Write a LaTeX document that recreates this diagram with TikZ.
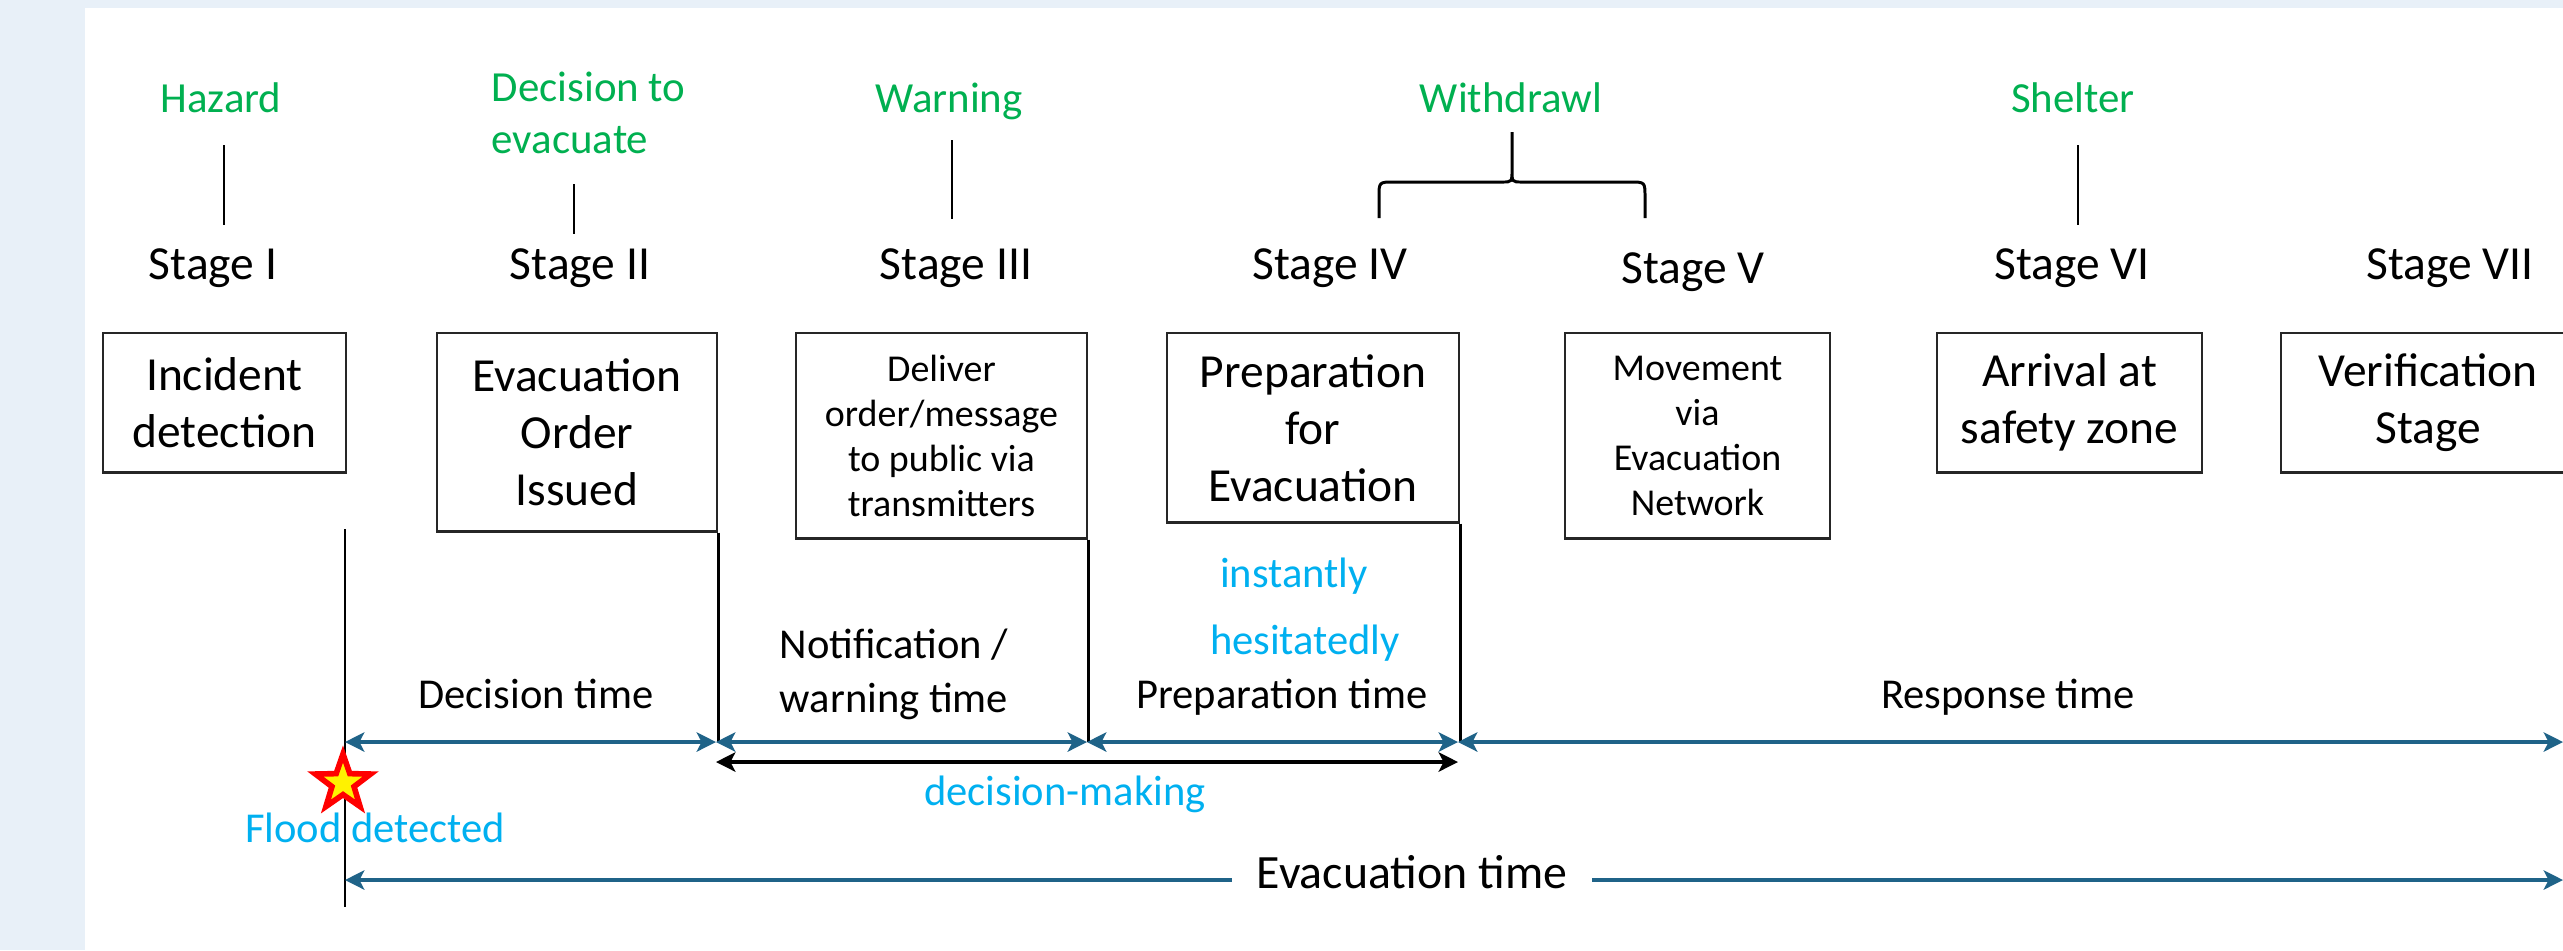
\documentclass[tikz,border=0pt]{standalone}
\usepackage{fontspec}
\setmainfont{Carlito}
\usetikzlibrary{arrows.meta,shapes.geometric}

\definecolor{phasegreen}{HTML}{00B050}
\definecolor{notecyan}{HTML}{00B0F0}
\definecolor{timeblue}{HTML}{1F6388}
\definecolor{pageblue}{HTML}{E8F0F8}

\tikzstyle{stagebox} = [draw=black!85, line width=0.7pt, inner sep=0mm, align=center, anchor=north, font=\fontsize{13.5}{16.2}\selectfont]
\tikzstyle{smallbox} = [stagebox, font=\fontsize{10.8}{12.8}\selectfont]
\tikzstyle{stagelbl} = [anchor=base, inner sep=0mm, font=\fontsize{13.5}{16.2}\selectfont]
\tikzstyle{phaselbl} = [anchor=base, inner sep=0mm, text=phasegreen, font=\fontsize{12.2}{14.8}\selectfont]
\tikzstyle{timelbl} = [anchor=base, inner sep=0mm, font=\fontsize{12.1}{15.4}\selectfont]
\tikzstyle{notelbl} = [timelbl, text=notecyan]
\tikzstyle{vline} = [draw=black, line width=0.8pt]
\tikzstyle{timeline} = [draw=timeblue, line width=0.95pt]
\tikzstyle{timearrow} = [timeline, <->]
\tikzstyle{decarrow} = [draw=black, line width=1pt, <->]

\begin{document}
\begin{tikzpicture}[x=0.01cm, y=-0.01cm, >={Stealth[length=5.5pt,width=5.5pt,inset=1.4pt]}]
		%\draw[help lines] (0,0) grid[step=100] (2563,950);
		\useasboundingbox (0,0) rectangle (2563,950);
		\fill[pageblue] (0,0) rectangle (2563,950);
		\fill[white] (85,8) rectangle (2563,950);

		\foreach \x/\y/\n/\l in {213/279/s1/I, 580/279/s2/II, 956/279/s3/III, 1330/279/s4/IV, 1693/283/s5/V, 2072/279/s6/VI, 2450/279/s7/VII}
		\node[stagelbl] (\n) at (\x,\y) {Stage \l};

		\foreach \x/\w/\h/\n/\t in {224.5/2.43/1.39/b1/{Incident\\detection}, 577/2.80/1.98/b2/{Evacuation\\Order\\Issued}, 1313/2.92/1.89/b4/{Preparation\\for\\Evacuation}, 2069.5/2.65/1.39/b6/{Arrival at\\safety zone}, 2428/2.94/1.39/b7/{Verification\\Stage}}
		\node[stagebox, minimum width=\w cm, minimum height=\h cm] (\n) at (\x,332) {\t};
		\node[smallbox, minimum width=2.91cm, minimum height=2.05cm] (b3) at (941.5,332) {Deliver\\order/message\\to public via\\transmitters};
		\node[smallbox, minimum width=2.65cm, minimum height=2.05cm] (b5) at (1697.5,332) {Movement\\via\\Evacuation\\Network};

		\foreach \x/\n/\l in {221/hz/Hazard, 949/wn/Warning, 1511/wd/Withdrawl, 2073/sh/Shelter}
		\node[phaselbl] (\n) at (\x,112) {\l};
		\node[phaselbl, anchor=west, align=left] (dv) at (491,113) {Decision to\\evacuate};

		\foreach \x/\a/\b in {224/145/225, 574/184/234, 952/140/219, 2078/145/225}
		\draw[vline] (\x,\a) -- (\x,\b);
		\draw[vline, line width=0.85pt] (1379,218) -- (1379,197) .. controls (1379,182) .. (1394,182) -- (1502,182) .. controls (1512,182) .. (1512,170) -- (1512,132)
			(1512,170) .. controls (1512,182) .. (1522,182) -- (1630,182) .. controls (1645,182) .. (1645,197) -- (1645,218);

		\foreach \n/\x in {t0/345, t1/716, t2/1087, t3/1458, t4/2563}
		\coordinate (\n) at (\x,742);
		\coordinate (f0) at (345,529);
		\coordinate (f1) at (345,907);
		\draw[vline] (f0) -- (f1);
		\foreach \b/\t in {b2/t1, b3/t2, b4/t3}
		\draw[vline] (\b.south east) -- (\b.south east |- \t);
		\foreach \a/\b in {t0/t1, t1/t2, t2/t3, t3/t4}
		\draw[timearrow] (\a) -- (\b);

		\coordinate (d0) at (716,762);
		\coordinate (d1) at (1458,762);
		\draw[decarrow] (d0) -- (d1);

		\node[star, star points=5, star point ratio=2.5, minimum size=0.58cm, inner sep=0mm, fill=yellow, draw=red, line width=1.6pt] (fs) at (343,783) {};
		\node[notelbl] (fd) at (375,842) {Flood detected};

		\node[timelbl] (dt) at (536,708) {Decision time};
		\node[timelbl, align=center, anchor=center] (nt) at (894,674) {Notification /\\warning time};
		\node[timelbl] (pt) at (1282,708) {Preparation time};
		\node[timelbl] (rt) at (2008,708) {Response time};
		\node[notelbl] (in) at (1294,587) {instantly};
		\node[notelbl] (he) at (1305,654) {hesitatedly};
		\node[notelbl] (dm) at (1065,805) {decision-making};

		\node[timelbl, font=\fontsize{13.6}{16}\selectfont, inner xsep=7pt] (ev) at (1412,888) {Evacuation time};
		\coordinate (e0) at (345,880);
		\coordinate (e1) at (2563,880);
		\draw[timeline, <-] (e0) -- (ev.west |- e0);
		\draw[timeline, ->] (ev.east |- e1) -- (e1);
	\end{tikzpicture}
\end{document}
